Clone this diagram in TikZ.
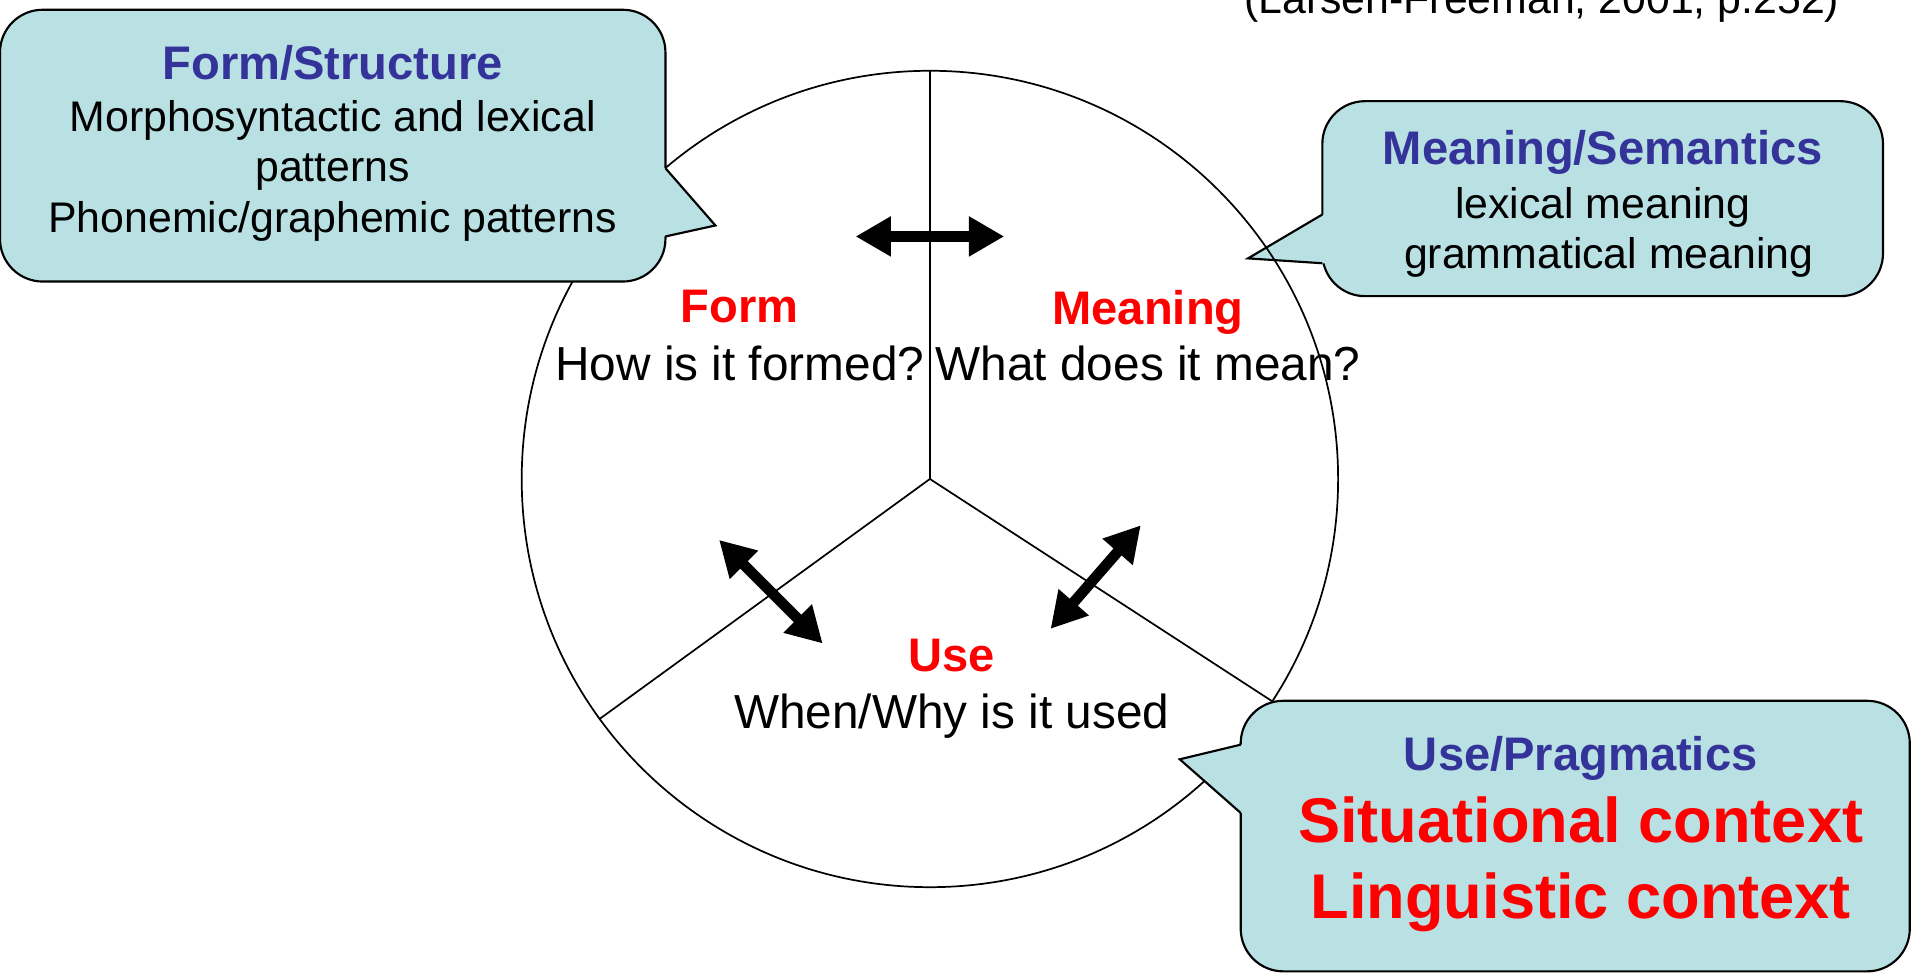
\documentclass[tikz,border=0pt]{standalone}
\usepackage{fontspec}
\setmainfont{Liberation Sans}
\usetikzlibrary{arrows.meta}
\definecolor{bolha}{RGB}{185,224,227}
\definecolor{azul}{RGB}{51,51,153}

\begin{document}
\begin{tikzpicture}[x=0.02cm, y=-0.02cm,
    bubble/.style={draw=black, fill=bolha, line width=1pt, rounded corners=0.7cm},
    tip/.style={draw=black, line width=1pt, line join=miter},
    title/.style={anchor=base, inner sep=0pt, text=azul, font=\fontsize{22}{26}\selectfont\bfseries},
    boxline/.style={anchor=base, inner sep=0pt, font=\fontsize{20}{24}\selectfont},
    bigline/.style={anchor=base, inner sep=0pt, text=red, font=\fontsize{29.5}{34}\selectfont\bfseries},
    keyword/.style={anchor=base, inner sep=0pt, text=red, font=\fontsize{22}{26}\selectfont\bfseries},
    question/.style={anchor=base, inner sep=0pt, font=\fontsize{22.3}{26}\selectfont},
    spoke/.style={line width=0.8pt},
    twoway/.style={line width=5pt,
        {Triangle[length=0.58cm,width=0.62cm]}-{Triangle[length=0.58cm,width=0.62cm]}}]
    \useasboundingbox (0,0) rectangle (1568,798);
    \clip (0,0) rectangle (1568,798);

    % Referencia
    \node[boxline] (ref) at (1265,11) {(Larsen-Freeman, 2001, p.252)};

    % Balao do significado
    \draw[bubble] (1085,83) rectangle (1545,243);
    \fill[bolha] (1091,176) -- (1085,176) -- (1024,212) -- (1085,216) -- (1091,216) -- cycle;
    \draw[tip] (1085,176) -- (1024,212) -- (1085,216);

    % Circulo e raios
    \node[draw, circle, minimum size=13.4cm, inner sep=0pt, line width=0.8pt] (wheel) at (763,393) {};
    \coordinate (hub) at (wheel.center);
    \draw[spoke] (hub) -- (wheel.90);
    \draw[spoke] (hub) -- (wheel.216);
    \draw[spoke] (hub) -- (wheel.327);

    % Balao da forma
    \draw[bubble] (0,8) rectangle (546,231);
    \fill[bolha] (540,138) -- (546,138) -- (587,185) -- (546,194) -- (540,194) -- cycle;
    \draw[tip] (546,138) -- (587,185) -- (546,194);

    % Balao do uso
    \draw[bubble] (1018,575) rectangle (1567,797);
    \fill[bolha] (1024,611) -- (1018,611) -- (968,623) -- (1018,667) -- (1024,667) -- cycle;
    \draw[tip] (1018,611) -- (968,623) -- (1018,667);

    % Textos dos baloes
    \node[title] (fstitle) at (273,65) {Form/Structure};
    \node[boxline] (fs1) at (273,108) {Morphosyntactic and lexical};
    \node[boxline] (fs2) at (273,149) {patterns};
    \node[boxline] (fs3) at (273,191) {Phonemic/graphemic patterns};

    \node[title] (mstitle) at (1315,135) {Meaning/Semantics};
    \node[boxline] (ms1) at (1315,179) {lexical meaning};
    \node[boxline] (ms2) at (1320,220) {grammatical meaning};

    \node[title] (uptitle) at (1297,632) {Use/Pragmatics};
    \node[bigline] (up1) at (1297,691) {Situational context};
    \node[bigline] (up2) at (1297,754) {Linguistic context};

    % Textos do circulo
    \node[keyword] (form) at (607,265) {Form};
    \node[question] (formq) at (607,312) {How is it formed?};
    \node[keyword] (meaning) at (942,266) {Meaning};
    \node[question] (meaningq) at (942,312) {What does it mean?};
    \node[keyword] (use) at (781,551) {Use};
    \node[question] (useq) at (781,598) {When/Why is it used};

    % Setas duplas
    \coordinate (fm1) at (702,194);
    \coordinate (fm2) at (824,194);
    \coordinate (fu1) at (590,443);
    \coordinate (fu2) at (675,528);
    \coordinate (mu1) at (936,431);
    \coordinate (mu2) at (862,516);
    \draw[twoway] (fm1) -- (fm2);
    \draw[twoway] (fu1) -- (fu2);
    \draw[twoway] (mu1) -- (mu2);
\end{tikzpicture}
\end{document}
